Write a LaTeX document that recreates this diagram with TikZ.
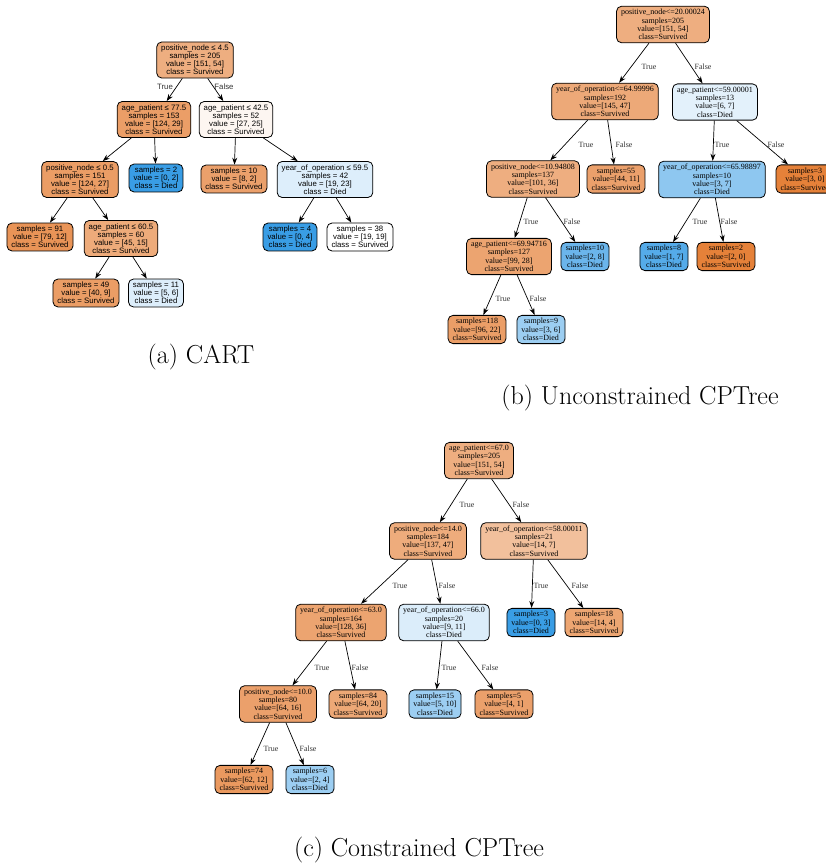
\documentclass[tikz,border=0pt]{standalone}
\usepackage{fontspec}
\newfontfamily\cartfont{Liberation Sans}
\newfontfamily\cpfont{Liberation Serif}
\usetikzlibrary{arrows.meta}

\definecolor{surv}{RGB}{229,129,57}
\definecolor{died}{RGB}{57,157,229}

\tikzset{
  treebox/.style={draw=black, line width=0.8pt, rounded corners=5pt, align=center,
    inner xsep=4.5pt, inner ysep=3pt},
  cartnode/.style={treebox, font=\cartfont\fontsize{7.8}{8.1}\selectfont},
  cpnode/.style={treebox, font=\cpfont\fontsize{8}{8.3}\selectfont},
  edge/.style={draw=black, line width=0.7pt, -{Stealth[length=7pt,width=5pt]}},
  cartlbl/.style={font=\cartfont\fontsize{7.8}{8.1}\selectfont, inner sep=0pt, text=black!80},
  cplbl/.style={font=\cpfont\fontsize{8}{8.3}\selectfont, inner sep=0pt, text=black!80},
  capt/.style={font=\fontsize{26}{30}\selectfont, inner sep=0pt}
}

\begin{document}
\begin{tikzpicture}[x=1pt,y=-1pt]
\clip (0,0) rectangle (826,864);

% ---------------- (a) CART ----------------
\node[cartnode, fill=surv!64] (a0) at (195,60) {positive\_node ≤ 4.5\\samples = 205\\value = [151, 54]\\class = Survived};
\node[cartnode, fill=surv!77] (a1) at (154,119.5) {age\_patient ≤ 77.5\\samples = 153\\value = [124, 29]\\class = Survived};
\node[cartnode, fill=surv!7] (a2) at (236,119.5) {age\_patient ≤ 42.5\\samples = 52\\value = [27, 25]\\class = Survived};
\node[cartnode, fill=surv!78] (a3) at (80,179.5) {positive\_node ≤ 0.5\\samples = 151\\value = [124, 27]\\class = Survived};
\node[cartnode, fill=died] (a4) at (156,178) {samples = 2\\value = [0, 2]\\class = Died};
\node[cartnode, fill=surv!75] (a5) at (234,179) {samples = 10\\value = [8, 2]\\class = Survived};
\node[cartnode, fill=died!17] (a6) at (325,179.5) {year\_of\_operation ≤ 59.5\\samples = 42\\value = [19, 23]\\class = Died};
\node[cartnode, fill=surv!85] (a7) at (40,237) {samples = 91\\value = [79, 12]\\class = Survived};
\node[cartnode, fill=surv!67] (a8) at (121,238.5) {age\_patient ≤ 60.5\\samples = 60\\value = [45, 15]\\class = Survived};
\node[cartnode, fill=died] (a9) at (290,237) {samples = 4\\value = [0, 4]\\class = Died};
\node[cartnode, fill=white] (a10) at (360,237) {samples = 38\\value = [19, 19]\\class = Survived};
\node[cartnode, fill=surv!78] (a11) at (86,293) {samples = 49\\value = [40, 9]\\class = Survived};
\node[cartnode, fill=died!17] (a12) at (156,293) {samples = 11\\value = [5, 6]\\class = Died};

\draw[edge] (a0) -- (a1);
\draw[edge] (a0) -- (a2);
\draw[edge] (a1) -- (a3);
\draw[edge] (a1) -- (a4);
\draw[edge] (a2) -- (a5);
\draw[edge] (a2) -- (a6);
\draw[edge] (a3) -- (a7);
\draw[edge] (a3) -- (a8);
\draw[edge] (a6) -- (a9);
\draw[edge] (a6) -- (a10);
\draw[edge] (a8) -- (a11);
\draw[edge] (a8) -- (a12);

\node[cartlbl] (a0t) at (165,87) {True};
\node[cartlbl] (a0f) at (224,87) {False};

\node[capt] (capa) at (201,357) {(a) CART};

% ---------------- (b) Unconstrained CPTree ----------------
\node[cpnode, fill=surv!64] (b0) at (663,24.5) {positive\_node<=20.00024\\samples=205\\value=[151, 54]\\class=Survived};
\node[cpnode, fill=surv!68] (b1) at (605,101.5) {year\_of\_operation<=64.99996\\samples=192\\value=[145, 47]\\class=Survived};
\node[cpnode, fill=died!14] (b2) at (715,102) {age\_patient<=59.00001\\samples=13\\value=[6, 7]\\class=Died};
\node[cpnode, fill=surv!64] (b3) at (533,179) {positive\_node<=10.94808\\samples=137\\value=[101, 36]\\class=Survived};
\node[cpnode, fill=surv!75] (b4) at (616,179) {samples=55\\value=[44, 11]\\class=Survived};
\node[cpnode, fill=died!57] (b5) at (712,179.5) {year\_of\_operation<=65.98897\\samples=10\\value=[3, 7]\\class=Died};
\node[cpnode, fill=surv] (b6) at (805,179) {samples=3\\value=[3, 0]\\class=Survived};
\node[cpnode, fill=surv!72] (b7) at (509,256.5) {age\_patient<=69.94716\\samples=127\\value=[99, 28]\\class=Survived};
\node[cpnode, fill=died!75] (b8) at (585,256.5) {samples=10\\value=[2, 8]\\class=Died};
\node[cpnode, fill=died!86] (b9) at (664,256.5) {samples=8\\value=[1, 7]\\class=Died};
\node[cpnode, fill=surv] (b10) at (726,256.5) {samples=2\\value=[2, 0]\\class=Survived};
\node[cpnode, fill=surv!77] (b11) at (477,329.5) {samples=118\\value=[96, 22]\\class=Survived};
\node[cpnode, fill=died!50] (b12) at (541,329.5) {samples=9\\value=[3, 6]\\class=Died};

\draw[edge] (b0) -- (b1);
\draw[edge] (b0) -- (b2);
\draw[edge] (b1) -- (b3);
\draw[edge] (b1) -- (b4);
\draw[edge] (b2) -- (b5);
\draw[edge] (b2) -- (b6);
\draw[edge] (b3) -- (b7);
\draw[edge] (b3) -- (b8);
\draw[edge] (b5) -- (b9);
\draw[edge] (b5) -- (b10);
\draw[edge] (b7) -- (b11);
\draw[edge] (b7) -- (b12);

\node[cplbl] (b0t) at (649,67) {True};
\node[cplbl] (b0f) at (703,67) {False};
\node[cplbl] (b1t) at (586,145) {True};
\node[cplbl] (b1f) at (624,145) {False};
\node[cplbl] (b2t) at (722,145) {True};
\node[cplbl] (b2f) at (776,145) {False};
\node[cplbl] (b3t) at (531,222) {True};
\node[cplbl] (b3f) at (572,222) {False};
\node[cplbl] (b5t) at (700,222) {True};
\node[cplbl] (b5f) at (729,222) {False};
\node[cplbl] (b7t) at (503,299) {True};
\node[cplbl] (b7f) at (538,299) {False};

\node[capt] (capb) at (640,398) {(b) Unconstrained CPTree};

% ---------------- (c) Constrained CPTree ----------------
\node[cpnode, fill=surv!64] (c0) at (479,460.5) {age\_patient<=67.0\\samples=205\\value=[151, 54]\\class=Survived};
\node[cpnode, fill=surv!66] (c1) at (428,541) {positive\_node<=14.0\\samples=184\\value=[137, 47]\\class=Survived};
\node[cpnode, fill=surv!50] (c2) at (534,541) {year\_of\_operation<=58.00011\\samples=21\\value=[14, 7]\\class=Survived};
\node[cpnode, fill=surv!72] (c3) at (341,622.5) {year\_of\_operation<=63.0\\samples=164\\value=[128, 36]\\class=Survived};
\node[cpnode, fill=died!18] (c4) at (444,622.5) {year\_of\_operation<=66.0\\samples=20\\value=[9, 11]\\class=Died};
\node[cpnode, fill=died] (c5) at (531,622.5) {samples=3\\value=[0, 3]\\class=Died};
\node[cpnode, fill=surv!71] (c6) at (594,622.5) {samples=18\\value=[14, 4]\\class=Survived};
\node[cpnode, fill=surv!75] (c7) at (278,704) {positive\_node<=10.0\\samples=80\\value=[64, 16]\\class=Survived};
\node[cpnode, fill=surv!69] (c8) at (358,704) {samples=84\\value=[64, 20]\\class=Survived};
\node[cpnode, fill=died!50] (c9) at (435,704) {samples=15\\value=[5, 10]\\class=Died};
\node[cpnode, fill=surv!75] (c10) at (504,704) {samples=5\\value=[4, 1]\\class=Survived};
\node[cpnode, fill=surv!81] (c11) at (244,779.5) {samples=74\\value=[62, 12]\\class=Survived};
\node[cpnode, fill=died!50] (c12) at (310,779.5) {samples=6\\value=[2, 4]\\class=Died};

\draw[edge] (c0) -- (c1);
\draw[edge] (c0) -- (c2);
\draw[edge] (c1) -- (c3);
\draw[edge] (c1) -- (c4);
\draw[edge] (c2) -- (c5);
\draw[edge] (c2) -- (c6);
\draw[edge] (c3) -- (c7);
\draw[edge] (c3) -- (c8);
\draw[edge] (c4) -- (c9);
\draw[edge] (c4) -- (c10);
\draw[edge] (c7) -- (c11);
\draw[edge] (c7) -- (c12);

\node[cplbl] (c0t) at (467,505) {True};
\node[cplbl] (c0f) at (521,505) {False};
\node[cplbl] (c1t) at (400,586) {True};
\node[cplbl] (c1f) at (447,586) {False};
\node[cplbl] (c2t) at (541,586) {True};
\node[cplbl] (c2f) at (580,586) {False};
\node[cplbl] (c3t) at (322,668) {True};
\node[cplbl] (c3f) at (360,668) {False};
\node[cplbl] (c4t) at (449,668) {True};
\node[cplbl] (c4f) at (490,668) {False};
\node[cplbl] (c7t) at (271,749) {True};
\node[cplbl] (c7f) at (308,749) {False};

\node[capt] (capc) at (419,850) {(c) Constrained CPTree};
\end{tikzpicture}
\end{document}
